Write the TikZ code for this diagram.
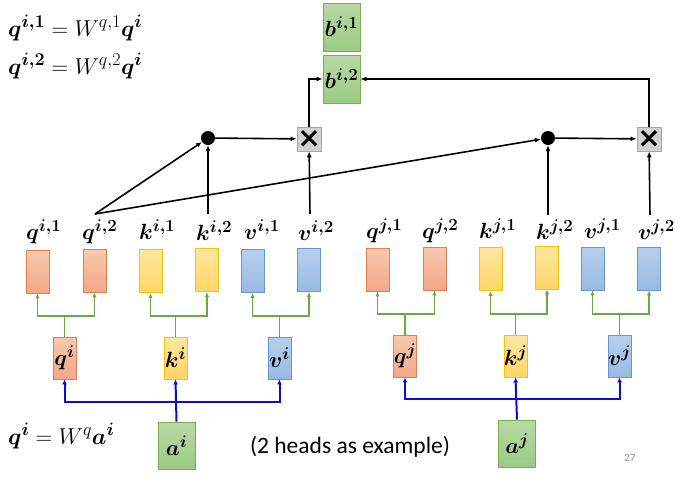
\RequirePackage{fix-cm}
\documentclass[tikz,border=0pt]{standalone}
\usepackage{amsmath,bm}
\usepackage{fontspec}
\newfontfamily\calib{Carlito}
\newfontfamily\dejab{DejaVu Sans}
\DeclareMathSizes{22}{22}{17}{13}
\DeclareMathSizes{23}{23}{18}{13}
\usetikzlibrary{arrows.meta}
\definecolor{gcol}{HTML}{6AAA42}
\definecolor{bcol}{HTML}{0A0AE6}
\definecolor{oT}{HTML}{F8C8AE}
\definecolor{oB}{HTML}{F2A888}
\definecolor{oD}{HTML}{E97A4C}
\definecolor{yT}{HTML}{FFE6A0}
\definecolor{yB}{HTML}{FFD566}
\definecolor{yD}{HTML}{FFC000}
\definecolor{uT}{HTML}{B7CFEC}
\definecolor{uB}{HTML}{98BAE3}
\definecolor{uD}{HTML}{6495D4}
\definecolor{gT}{HTML}{B8D8A4}
\definecolor{gB}{HTML}{9CCB84}
\definecolor{gD}{HTML}{75B04C}
\begin{document}
\begin{tikzpicture}[x=1pt,y=-1pt,
  >={Latex[length=6pt,width=5pt]},
  arr/.style={->,line width=1.6pt,black},
  garr/.style={-{Latex[length=5pt,width=4.5pt]},line width=1.9pt,gcol},
  barr/.style={-{Latex[length=5pt,width=5pt]},line width=2pt,bcol},
  vec/.style={minimum width=23pt,minimum height=43pt,inner sep=0pt,line width=0.9pt},
  qv/.style={vec,draw=oD,top color=oT,bottom color=oB},
  kv/.style={vec,draw=yD,top color=yT,bottom color=yB},
  vv/.style={vec,draw=uD,top color=uT,bottom color=uB},
  gbox/.style={minimum width=37pt,minimum height=47pt,inner sep=0pt,line width=0.9pt,draw=gD,top color=gT,bottom color=gB},
  lbl/.style={inner sep=0pt,font=\fontsize{22}{26}\selectfont},
  big/.style={inner sep=0pt,font=\fontsize{23}{27}\selectfont},
  dotn/.style={circle,fill=black,minimum size=14pt,inner sep=0pt},
  mul/.style={draw=black!35,fill=black!18,minimum width=24pt,minimum height=24pt,inner sep=0pt,line width=0.8pt,font=\dejab\bfseries\fontsize{28}{28}\selectfont}
]
\useasboundingbox (0,0) rectangle (683,477);

% formulas
\node[big,anchor=base west] (f1) at (8,36) {$\bm{q}^{\bm{i,1}}=W^{q,1}\bm{q}^{\bm{i}}$};
\node[big,anchor=base west] (f2) at (8,74) {$\bm{q}^{\bm{i,2}}=W^{q,2}\bm{q}^{\bm{i}}$};
\node[big,anchor=base west] (f3) at (8,444) {$\bm{q}^{\bm{i}}=W^{q}\bm{a}^{\bm{i}}$};

% outputs
\node[gbox,minimum height=48pt] (bi1) at (341.5,27) {};
\node[lbl] at (bi1.center) {$\bm{b}^{\bm{i,1}}$};
\node[gbox,minimum height=48pt] (bi2) at (341.5,79) {};
\node[lbl] at (bi2.center) {$\bm{b}^{\bm{i,2}}$};

% dots and products
\node[dotn] (dL) at (208,138) {};
\node[dotn] (dR) at (548,138) {};
\node[mul] (mL) at (309,139) {×};
\node[mul] (mR) at (649,139) {×};

% head vectors, i side
\node[qv] (qi1) at (37.5,271.5) {};
\node[qv] (qi2) at (94.5,270.5) {};
\node[kv] (ki1) at (150.5,271) {};
\node[kv] (ki2) at (207,270) {};
\node[vv] (vi1) at (252.5,271) {};
\node[vv] (vi2) at (309,270) {};
% head vectors, j side
\node[qv] (qj1) at (377.5,269.5) {};
\node[qv] (qj2) at (434.5,268.5) {};
\node[kv] (kj1) at (490.5,269) {};
\node[kv] (kj2) at (547,267.5) {};
\node[vv] (vj1) at (592.5,268.5) {};
\node[vv] (vj2) at (649,268.5) {};

% labels
\node[lbl,anchor=base west] (Lqi1) at (26,239) {$\bm{q}^{\bm{i,1}}$};
\node[lbl,anchor=base west] (Lqi2) at (82,239) {$\bm{q}^{\bm{i,2}}$};
\node[lbl,anchor=base west] (Lki1) at (139,239) {$\bm{k}^{\bm{i,1}}$};
\node[lbl,anchor=base west] (Lki2) at (196,240) {$\bm{k}^{\bm{i,2}}$};
\node[lbl,anchor=base west] (Lvi1) at (244,239) {$\bm{v}^{\bm{i,1}}$};
\node[lbl,anchor=base west] (Lvi2) at (298,240) {$\bm{v}^{\bm{i,2}}$};
\node[lbl,anchor=base west] (Lqj1) at (366,238) {$\bm{q}^{\bm{j,1}}$};
\node[lbl,anchor=base west] (Lqj2) at (422,238) {$\bm{q}^{\bm{j,2}}$};
\node[lbl,anchor=base west] (Lkj1) at (479,238) {$\bm{k}^{\bm{j,1}}$};
\node[lbl,anchor=base west] (Lkj2) at (536,239) {$\bm{k}^{\bm{j,2}}$};
\node[lbl,anchor=base west] (Lvj1) at (584,238) {$\bm{v}^{\bm{j,1}}$};
\node[lbl,anchor=base west] (Lvj2) at (638,239) {$\bm{v}^{\bm{j,2}}$};

% q k v
\node[qv,minimum height=42pt] (qi) at (64.5,358) {};
\node[lbl] at (qi.center) {$\bm{q}^{\bm{i}}$};
\node[kv,minimum height=42pt] (ki) at (175.5,358) {};
\node[lbl] at (ki.center) {$\bm{k}^{\bm{i}}$};
\node[vv,minimum height=42pt] (vi) at (279.5,358) {};
\node[lbl] at (vi.center) {$\bm{v}^{\bm{i}}$};
\node[qv,minimum height=42pt] (qj) at (405,356) {};
\node[lbl] at (qj.center) {$\bm{q}^{\bm{j}}$};
\node[kv,minimum height=42pt] (kj) at (515.5,356) {};
\node[lbl] at (kj.center) {$\bm{k}^{\bm{j}}$};
\node[vv,minimum height=42pt] (vj) at (619.5,356) {};
\node[lbl] at (vj.center) {$\bm{v}^{\bm{j}}$};

% inputs
\node[gbox] (ai) at (176.5,445.5) {};
\node[lbl] at (ai.center) {$\bm{a}^{\bm{i}}$};
\node[gbox] (aj) at (517,443.5) {};
\node[lbl] at (aj.center) {$\bm{a}^{\bm{j}}$};

\node[inner sep=0pt,anchor=base,font=\calib\fontsize{23.5}{26}\selectfont] (note) at (350,453) {(2 heads as example)};
\node[inner sep=0pt,text=black!45,font=\calib\fontsize{11}{12}\selectfont] (pg) at (630,458) {27};

% blue arrows
\coordinate (bi) at (177,402);
\coordinate (bj) at (516,399);
\draw[barr] (ai.north) -- (ki.south);
\draw[barr] (bi) -| (qi.south);
\draw[barr] (bi) -| (vi.south);
\draw[barr] (aj.north) -- (kj.south);
\draw[barr] (bj) -| (qj.south);
\draw[barr] (bj) -| (vj.south);

% green arrows
\foreach \s/\a/\b in {qi/qi1/qi2,ki/ki1/ki2,vi/vi1/vi2,qj/qj1/qj2,kj/kj1/kj2,vj/vj1/vj2}{
  \draw[garr] (\s.north) -- ++(0,-21) -| (\a.south);
  \draw[garr] (\s.north) -- ++(0,-21) -| (\b.south);
}

% attention connectors
\coordinate (sq) at (95,214);
\coordinate (sk) at (208,214);
\coordinate (sv) at (310,214);
\coordinate (skj) at (548,215);
\coordinate (svj) at (650,215);
\draw[arr] (sq) -- (dL);
\draw[arr] (sq) -- (dR);
\draw[arr] (sk) -- (dL);
\draw[arr] (sv) -- (mL);
\draw[arr] (skj) -- (dR);
\draw[arr] (svj) -- (mR);
\draw[arr] (dL) -- (mL);
\draw[arr] (dR) -- (mR);
\draw[arr] (mL.north) |- (bi2.west);
\draw[arr] (mR.north) |- (bi2.east);
\end{tikzpicture}
\end{document}
